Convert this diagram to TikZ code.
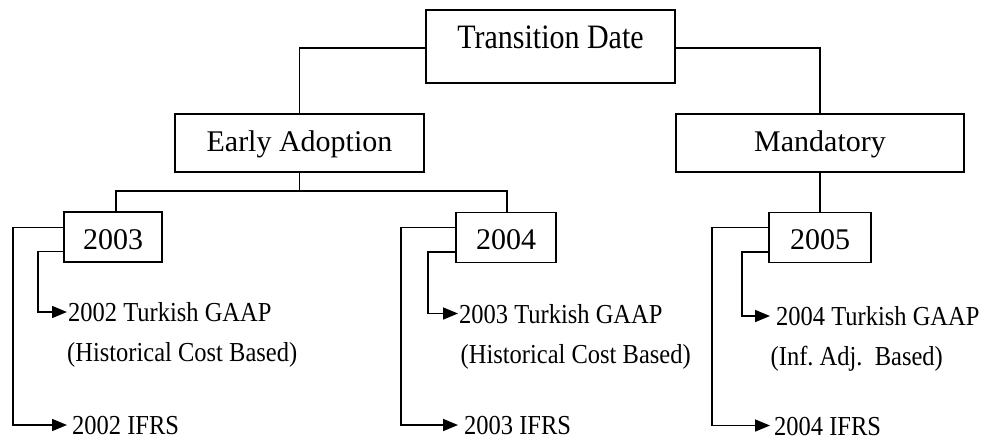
\documentclass[tikz,border=0pt]{standalone}
\usepackage{graphicx}
\usepackage{fontspec}
\setmainfont{Liberation Serif}
\usetikzlibrary{arrows.meta}
\frenchspacing
\newcommand\vstr[1]{\scalebox{1}[1.12]{#1}}
\begin{document}
\begin{tikzpicture}[x=1pt,y=-1pt,
  box/.style={draw, line width=1.6pt, inner sep=0pt, font=\fontsize{30}{36}\selectfont},
  leaf/.style={inner sep=0pt, anchor=base west, text height=22pt, text depth=3pt, font=\fontsize{24.5}{29}\selectfont},
  lowleaf/.style={leaf, text height=19pt, text depth=0pt},
  conn/.style={line width=1.6pt},
  arr/.style={conn, -{Triangle[length=15pt,width=12pt]}}]
\useasboundingbox (0,0) rectangle (992,439);
% boxes
\node[box, minimum width=249pt, text height=38pt, text depth=35pt] (td) at (550.5,46.5) {\scalebox{1}[1.14]{Transition Date}};
\node[box, minimum width=249pt, text height=37.7pt, text depth=20.3pt] (ea) at (299.5,143) {Early Adoption};
\node[box, minimum width=288pt, text height=37.7pt, text depth=20.3pt] (md) at (820,143) {Mandatory};
\node[box, minimum width=98pt, text height=37pt, text depth=13pt] (y3) at (113,237) {2003};
\node[box, minimum width=100pt, text height=37pt, text depth=13pt] (y4) at (506,237.5) {2004};
\node[box, minimum width=102pt, text height=37pt, text depth=13pt] (y5) at (820,237.5) {2005};
% leaves column 1
\node[leaf] (g3) at (68,321.5) {\vstr{2002 Turkish GAAP}};
\node[leaf] (h3) at (67,361.5) {\vstr{(Historical Cost Based)}};
\node[lowleaf] (f3) at (72,434.5) {\vstr{2002 IFRS}};
% leaves column 2
\node[leaf] (g4) at (459,323) {\vstr{2003 Turkish GAAP}};
\node[leaf] (h4) at (460.5,363) {\vstr{(Historical Cost Based)}};
\node[lowleaf] (f4) at (464,434.5) {\vstr{2003 IFRS}};
% leaves column 3
\node[leaf] (g5) at (776,325.5) {\vstr{2004 Turkish GAAP}};
\node[leaf] (h5) at (770.5,365) {\vstr{(Inf. Adj.\ \ Based)}};
\node[lowleaf] (f5) at (774,435) {\vstr{2004 IFRS}};
% tree connectors
\draw[conn] ([yshift=-1.5pt]td.west) -| (ea.north);
\draw[conn] ([yshift=-1.5pt]td.east) -| (md.north);
\coordinate (bus) at ([yshift=-18pt]ea.south);
\draw[conn] (ea.south) -- (bus);
\draw[conn] ([xshift=3pt]y3.north) |- (bus) -| ([xshift=1pt]y4.north);
\draw[conn] (md.south) -- (y5.north);
% column 1 arrows
\draw[arr] ([yshift=9.5pt]y3.west) -- ++(-50,0) |- (f3.west) [shorten >=5pt];
\draw[arr] ([yshift=-14.5pt]y3.west) -- ++(-25,0) |- (g3.west) [shorten >=1pt];
% column 2 arrows
\draw[arr] ([yshift=10pt]y4.west) -- ++(-54.5,0) |- (f4.west) [shorten >=6pt];
\draw[arr] ([yshift=-14.5pt]y4.west) -- ++(-27.5,0) |- (g4.west) [shorten >=1pt];
% column 3 arrows
\draw[arr] ([yshift=10pt]y5.west) -- ++(-56,0) |- (f5.west) [shorten >=4pt];
\draw[arr] ([yshift=-14.5pt]y5.west) -- ++(-26,0) |- (g5.west) [shorten >=6pt];
\end{tikzpicture}
\end{document}
